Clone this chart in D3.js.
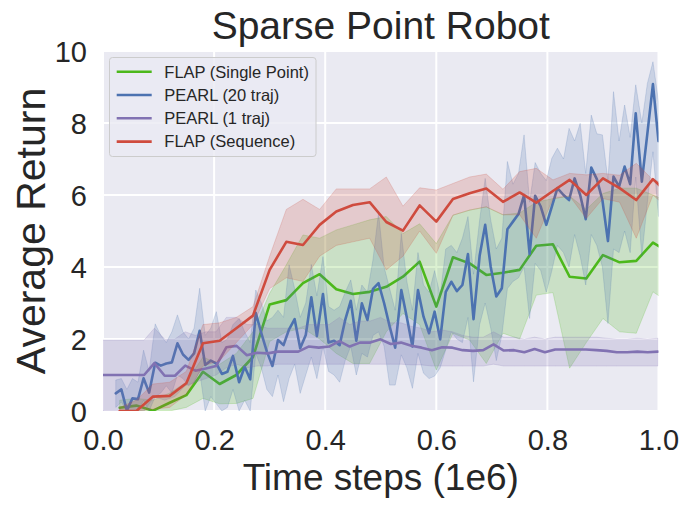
<!DOCTYPE html>
<html lang="en">
<head>
<meta charset="UTF-8">
<title>Sparse Point Robot</title>
<style>
  body { margin: 0; padding: 0; background: #ffffff; }
  svg { display: block; font-family: 'Liberation Sans', Arial, sans-serif; }
  .tick text { fill: #262626; font-size: 29px; }
</style>
</head>
<body>
<svg id="chart" width="692" height="509"></svg>
<script src="https://d3js.org/d3.v7.min.js"></script>
<script>
// FLAP runs share one x grid (1e6 steps)
const flapX = [0.03,0.06,0.09,0.12,0.15,0.18,0.21,0.24,0.27,0.30,0.33,0.36,0.39,0.42,0.45,0.48,0.51,0.54,0.57,0.60,0.63,0.66,0.69,0.72,0.75,0.78,0.81,0.84,0.87,0.90,0.93,0.96,0.99,1.02];

const singleY  = [0.09,0.15,0.01,0.23,0.44,1.09,0.75,1.0,1.5,2.96,3.08,3.55,3.8,3.38,3.25,3.31,3.45,3.73,4.15,2.9,4.27,4.1,3.78,3.84,3.92,4.59,4.63,3.73,3.68,4.33,4.13,4.17,4.68,4.4];
const singleUp = [0.3,0.35,0.3,0.5,0.8,1.5,1.3,1.6,2.2,3.27,4.06,4.89,4.8,5.03,5.17,5.31,5.4,4.93,5.2,4.65,5.44,5.58,5.67,5.45,5.5,5.8,5.9,5.97,5.6,6.04,6.19,6.19,6.0,5.8];
const singleLo = [0.0,0.0,0.0,0.0,0.1,0.35,0.2,0.21,0.35,1.93,2.2,2.3,2.0,1.6,1.32,1.32,2.2,2.71,2.4,1.14,2.16,1.97,1.32,2.16,2.0,3.22,3.29,1.19,1.9,2.57,2.2,2.16,3.31,3.0];

const seqY  = [0.0,0.0,0.4,0.42,0.77,1.88,1.95,2.3,2.65,3.92,4.70,4.61,5.17,5.54,5.72,5.80,5.25,5.01,5.71,5.26,5.89,6.05,6.18,5.81,6.07,5.79,6.11,6.42,6.0,6.46,6.19,5.86,6.44,6.0];
const seqUp = [0.1,0.3,0.75,0.8,1.1,2.4,2.45,2.6,2.9,4.3,5.6,5.88,5.6,6.17,6.17,6.17,6.5,5.69,6.2,6.14,6.32,6.5,6.58,6.16,6.65,6.74,6.42,6.6,6.56,6.6,6.55,6.88,6.42,6.3];
const seqLo = [0.0,0.0,0.05,0.1,0.45,1.25,1.4,1.9,2.4,3.4,3.7,3.6,4.3,4.6,4.7,4.8,3.92,4.3,5.0,4.38,5.44,5.58,5.67,5.45,5.45,4.8,5.9,5.97,5.35,5.9,5.8,4.8,6.0,5.6];

// PEARL (20 traj)
const pearl20X = [0.023,0.033,0.043,0.053,0.063,0.073,0.083,0.094,0.104,0.114,
  0.124,0.134,0.144,0.154,0.164,0.174,0.184,0.194,0.204,0.214,
  0.224,0.234,0.245,0.255,0.265,0.275,0.285,0.295,0.305,0.315,
  0.325,0.335,0.345,0.355,0.365,0.375,0.385,0.396,0.406,0.416,
  0.426,0.436,0.446,0.456,0.466,0.476,0.486,0.496,0.506,0.516,
  0.526,0.537,0.547,0.557,0.567,0.577,0.587,0.597,0.607,0.617,
  0.627,0.637,0.647,0.657,0.667,0.678,0.688,0.698,0.708,0.718,
  0.728,0.738,0.748,0.758,0.768,0.778,0.788,0.798,0.808,0.818,
  0.829,0.839,0.849,0.859,0.869,0.879,0.889,0.899,0.909,0.919,
  0.929,0.939,0.949,0.959,0.970,0.980,0.990,1.000];
const pearl20Y = [0.49,0.6,0.01,0.35,0.33,0.91,0.51,1.34,1.26,1.32,
  1.35,1.88,1.57,1.42,1.6,2.23,1.28,1.4,1.32,1.03,
  1.09,1.53,0.8,1.23,0.88,2.73,2.16,1.65,1.25,1.97,
  1.83,2.27,2.55,1.74,2.11,3.16,2.08,3.25,1.9,1.95,
  1.83,2.53,3.06,1.95,2.99,2.53,3.39,3.55,3.0,2.35,
  1.76,3.36,2.6,1.79,3.36,2.62,2.16,2.76,1.99,3.31,
  3.59,3.33,3.5,4.36,2.55,4.31,5.17,4.0,3.18,3.41,
  5.05,5.26,5.47,6.0,4.36,5.98,5.68,5.17,5.68,6.19,
  6.0,5.86,6.46,6.0,5.33,6.76,6.44,5.86,4.72,6.51,
  6.23,6.79,6.3,8.27,6.37,7.71,9.08,7.5];
const pearl20Up = [0.86,0.9,0.6,0.9,0.8,1.69,1.1,2.42,2.1,1.9,
  2.2,2.67,2.2,2.0,2.3,3.41,2.1,2.3,2.76,1.9,
  2.0,2.4,2.57,2.2,1.9,3.36,3.0,2.5,2.6,2.8,
  2.6,4.06,3.4,2.6,3.0,4.07,3.2,4.29,2.9,2.8,
  2.9,3.3,3.64,2.8,3.5,3.3,4.2,5.5,4.0,3.4,
  2.8,4.93,3.6,2.8,4.4,3.5,3.3,3.9,3.2,4.5,
  4.6,4.4,4.8,5.4,3.8,5.3,6.46,5.3,4.5,4.8,
  6.93,6.3,6.6,7.67,5.8,6.9,6.6,6.4,7.02,7.3,
  7.0,7.85,7.5,7.99,6.6,8.22,7.7,7.67,6.4,8.87,
  7.5,8.5,7.6,9.06,8.0,9.1,9.7,8.6];
const pearl20Lo = [0.1,0.25,0.0,0.0,0.0,0.3,0.0,0.4,0.5,0.7,
  0.5,1.0,0.9,0.7,0.8,1.1,0.0,0.4,0.2,0.0,
  0.1,0.6,0.0,0.3,0.0,1.6,1.2,0.6,0.4,1.0,
  0.26,0.9,1.3,0.49,1.0,1.5,0.9,1.8,1.1,1.0,
  0.8,1.4,1.8,1.0,1.6,1.5,2.1,2.2,1.8,0.72,
  0.72,1.56,1.2,0.63,1.6,1.05,0.9,0.97,1.2,1.7,
  2.2,2.0,1.9,2.6,0.81,2.4,3.0,2.3,1.4,2.1,
  3.4,3.6,3.7,4.0,2.57,4.1,3.9,3.3,3.9,4.6,
  4.4,4.0,4.9,4.3,3.5,4.9,4.6,4.0,2.43,4.5,
  4.4,5.0,4.4,6.5,4.3,5.8,7.2,5.4];

// PEARL (1 traj)
const pearl1X = [0,0.0185,0.037,0.0555,0.074,0.0925,0.111,0.1295,0.148,0.1665,
  0.185,0.2035,0.222,0.2405,0.259,0.2775,0.296,0.3145,0.333,0.3515,
  0.37,0.3885,0.407,0.4255,0.444,0.4625,0.481,0.4995,0.518,0.5365,
  0.555,0.5735,0.592,0.6105,0.629,0.6475,0.666,0.6845,0.703,0.7215,
  0.74,0.7585,0.777,0.7955,0.814,0.8325,0.851,0.8695,0.888,0.9065,
  0.925,0.9435,0.962,0.9805,0.999];
const pearl1Y = [1.0,1.0,1.0,1.0,1.0,1.33,0.98,0.98,1.26,1.12,
  1.18,1.25,1.77,1.81,1.55,1.62,1.6,1.65,1.65,1.65,
  1.79,1.76,1.79,1.94,1.79,1.9,1.9,1.99,1.86,1.9,
  1.81,1.76,1.69,1.77,1.76,1.69,1.67,1.69,1.85,1.68,
  1.69,1.63,1.72,1.63,1.71,1.71,1.71,1.71,1.69,1.67,
  1.63,1.63,1.65,1.63,1.65];
const pearl1Up = [1.97,1.97,1.97,1.97,1.97,2.3,2.0,2.0,2.2,2.1,
  2.2,2.2,2.6,2.6,2.4,2.4,2.3,2.3,2.3,2.3,
  2.4,2.4,2.4,2.6,2.4,2.5,2.5,2.6,2.45,2.45,
  2.35,2.3,2.2,2.25,2.2,2.1,2.05,2.05,2.2,2.05,
  2.05,2.0,2.05,2.0,2.05,2.05,2.05,2.05,2.05,2.02,
  2.0,2.0,2.02,2.0,2.02];
const pearl1Lo = [0,0,0,0,0,0.4,0.3,0.4,0.7,0.8,
  0.9,1.0,1.2,1.3,1.2,1.25,1.25,1.3,1.3,1.3,
  1.3,1.3,1.3,1.3,1.3,1.3,1.3,1.3,1.3,1.3,
  1.28,1.28,1.25,1.25,1.25,1.25,1.25,1.25,1.3,1.25,
  1.25,1.25,1.25,1.25,1.25,1.25,1.25,1.25,1.25,1.25,
  1.25,1.25,1.25,1.25,1.25];

const xTicks = [0, 0.2, 0.4, 0.6, 0.8, 1.0];
const yTicks = [0, 2, 4, 6, 8, 10];

const series = [
  { name: "FLAP (Single Point)", color: "#4cb81b", x: flapX,    y: singleY,  up: singleUp,  lo: singleLo },
  { name: "PEARL (20 traj)",     color: "#4c72b0", x: pearl20X, y: pearl20Y, up: pearl20Up, lo: pearl20Lo },
  { name: "PEARL (1 traj)",      color: "#8172b2", x: pearl1X,  y: pearl1Y,  up: pearl1Up,  lo: pearl1Lo },
  { name: "FLAP (Sequence)",     color: "#cf4b3e", x: flapX,    y: seqY,     up: seqUp,     lo: seqLo }
];

const mLeft = 103, mRight = 658.5, mTop = 51, mBottom = 411;
const x = d3.scaleLinear().domain([0, 1]).range([mLeft, mRight]);
const y = d3.scaleLinear().domain([0, 10]).range([mBottom, mTop]);

const svg = d3.select("#chart");

svg.append("text")
  .attr("x", (mLeft + mRight) / 2).attr("y", 39)
  .attr("text-anchor", "middle")
  .attr("fill", "#262626").attr("font-size", 39)
  .text("Sparse Point Robot");

svg.append("rect")
  .attr("x", mLeft).attr("y", mTop)
  .attr("width", mRight - mLeft).attr("height", mBottom - mTop)
  .attr("fill", "#eaeaf2");

svg.append("clipPath").attr("id", "plotclip")
  .append("rect")
  .attr("x", mLeft).attr("y", mTop)
  .attr("width", mRight - mLeft).attr("height", mBottom - mTop);

// grid
svg.append("g").selectAll("line").data(xTicks).join("line")
  .attr("x1", d => x(d)).attr("x2", d => x(d))
  .attr("y1", mTop).attr("y2", mBottom)
  .attr("stroke", "#fff").attr("stroke-width", 2);
svg.append("g").selectAll("line").data(yTicks).join("line")
  .attr("x1", mLeft).attr("x2", mRight)
  .attr("y1", d => y(d)).attr("y2", d => y(d))
  .attr("stroke", "#fff").attr("stroke-width", 2);

const plot = svg.append("g").attr("clip-path", "url(#plotclip)");

series.forEach(s => {
  const pts = s.x.map((v, i) => ({ x: v, y: s.y[i], up: s.up[i], lo: s.lo[i] }));
  const area = d3.area().x(d => x(d.x)).y0(d => y(d.lo)).y1(d => y(d.up));
  const line = d3.line().x(d => x(d.x)).y(d => y(d.y));
  plot.append("path").attr("d", area(pts))
    .attr("fill", s.color).attr("fill-opacity", 0.2)
    .attr("stroke", s.color).attr("stroke-opacity", 0.2).attr("stroke-width", 1);
  plot.append("path").attr("d", line(pts))
    .attr("fill", "none").attr("stroke", s.color)
    .attr("stroke-width", 2.6).attr("stroke-linejoin", "round").attr("stroke-linecap", "round");
});

// axes (no tick marks, seaborn style)
const xAxis = svg.append("g").attr("transform", `translate(0,${mBottom})`)
  .call(d3.axisBottom(x).tickValues(xTicks).tickFormat(d3.format(".1f")).tickSize(0).tickPadding(10));
xAxis.select(".domain").remove();
xAxis.selectAll("text").attr("dy", null).attr("y", 39);

const yAxis = svg.append("g").attr("transform", `translate(${mLeft},0)`)
  .call(d3.axisLeft(y).tickValues(yTicks).tickFormat(d3.format("d")).tickSize(0).tickPadding(16));
yAxis.select(".domain").remove();
yAxis.selectAll("text").attr("dy", "0.36em");
svg.selectAll(".tick text").attr("font-family", "'Liberation Sans', Arial, sans-serif");

svg.append("text")
  .attr("x", (mLeft + mRight) / 2).attr("y", 490)
  .attr("text-anchor", "middle")
  .attr("fill", "#262626").attr("font-size", 37)
  .text("Time steps (1e6)");

svg.append("text")
  .attr("transform", `translate(45,${(mTop + mBottom) / 2}) rotate(-90)`)
  .attr("text-anchor", "middle")
  .attr("fill", "#262626").attr("font-size", 41)
  .text("Average Return");

// legend
const lg = svg.append("g");
lg.append("rect")
  .attr("x", 109.5).attr("y", 57.5).attr("width", 206.5).attr("height", 99)
  .attr("rx", 3).attr("fill", "#eaeaf2").attr("fill-opacity", 0.8)
  .attr("stroke", "#cccccc").attr("stroke-width", 1);
series.forEach((s, i) => {
  const ry = 71.7 + i * 23.3;
  lg.append("line")
    .attr("x1", 116.7).attr("x2", 151.7).attr("y1", ry).attr("y2", ry)
    .attr("stroke", s.color).attr("stroke-width", 2.6);
  lg.append("text")
    .attr("x", 164.3).attr("y", ry + 5.8)
    .attr("fill", "#262626").attr("font-size", 16.5)
    .text(s.name);
});
</script>
</body>
</html>
